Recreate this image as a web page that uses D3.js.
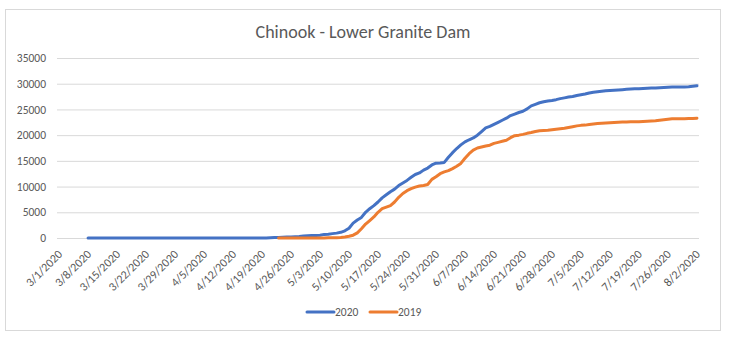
<!DOCTYPE html>
<html>
<head>
<meta charset="utf-8">
<script src="https://cdn.jsdelivr.net/npm/d3@7/dist/d3.min.js"></script>
<style>
  html, body { margin: 0; padding: 0; background: #fff; }
  svg { display: block; font-family: Calibri, Carlito, Lato, "Open Sans", sans-serif; }
</style>
</head>
<body>
<svg id="chart" width="730" height="340"></svg>
<script>
// Cumulative Chinook counts at Lower Granite Dam, one value per day
const chartTitle = "Chinook - Lower Granite Dam";
const firstDay = "3/1/2020";
const lastDay = "8/2/2020";
const yTicks = [0, 5000, 10000, 15000, 20000, 25000, 30000, 35000];
const tickLabels = ["3/1/2020", "3/8/2020", "3/15/2020", "3/22/2020", "3/29/2020", "4/5/2020",
  "4/12/2020", "4/19/2020", "4/26/2020", "5/3/2020", "5/10/2020", "5/17/2020", "5/24/2020",
  "5/31/2020", "6/7/2020", "6/14/2020", "6/21/2020", "6/28/2020", "7/5/2020", "7/12/2020",
  "7/19/2020", "7/26/2020", "8/2/2020"];

const seriesNames = ["2020", "2019"];
const start2020 = "3/8/2020";
const values2020 = [
  0, 0, 0, 0, 0, 0, 0, 0, 0, 0, 0, 0, 0, 0, 0, 0, 0, 0, 0, 0, 0, 0,
  0, 0, 0, 0, 0, 0, 0, 0, 0, 0, 0, 0, 0, 0, 0, 0, 0, 0, 0, 0, 0, 0,
  50, 100, 100, 150, 200, 200, 250, 300, 400, 450, 500, 500, 550, 700, 750, 850, 950,
  1100, 1400, 1900, 2900, 3500, 4000, 5000, 5700, 6300, 7000, 7800, 8400, 9000, 9500,
  10200, 10700, 11200, 11800, 12350, 12650, 13200, 13600, 14200, 14550, 14600, 14700,
  15700, 16600, 17400, 18100, 18700, 19100, 19450, 20000, 20700, 21400, 21700, 22100,
  22500, 22900, 23300, 23800, 24100, 24400, 24650, 25100, 25700, 26000, 26300, 26500,
  26650, 26750, 26900, 27100, 27250, 27400, 27500, 27700, 27850, 28000, 28200, 28350,
  28450, 28550, 28650, 28700, 28750, 28800, 28850, 28900, 28950, 29000, 29000, 29050,
  29100, 29150, 29150, 29200, 29250, 29300, 29350, 29350, 29350, 29350, 29400, 29500, 29600
];
const start2019 = "4/23/2020";
const values2019 = [
  0, 0, 0, 0, 0, 0, 0, 0, 10, 10, 20, 20, 30, 30,
  50, 100, 200, 350, 550, 1000, 1800, 2700, 3400, 4100, 5000, 5700, 6000, 6300, 7000,
  7900, 8650, 9200, 9600, 9900, 10100, 10200, 10400, 11400, 11900, 12500, 12850, 13100,
  13500, 13950, 14500, 15500, 16400, 17100, 17500, 17700, 17900, 18050, 18400, 18600,
  18800, 19000, 19500, 19900, 20000, 20150, 20350, 20500, 20700, 20850, 20900, 20950,
  21050, 21150, 21250, 21350, 21500, 21650, 21800, 21900, 21950, 22050, 22150, 22250,
  22300, 22350, 22400, 22450, 22500, 22550, 22550, 22600, 22600, 22600, 22650, 22700,
  22750, 22800, 22900, 23000, 23100, 23200, 23200, 23200, 23200, 23250, 23250, 23300
];
const seriesColors = ["#4472C4", "#ED7D31"];

const parse = d3.timeParse("%m/%d/%Y");
const fmt = d3.timeFormat("%-m/%-d/%Y");

// every day on the category axis
const days = d3.timeDay.range(parse(firstDay), d3.timeDay.offset(parse(lastDay), 1)).map(fmt);

function toPoints(startLabel, values) {
  const s = parse(startLabel);
  return values.map((v, i) => ({ day: fmt(d3.timeDay.offset(s, i)), value: v }));
}
const series = [
  { name: seriesNames[0], color: seriesColors[0], points: toPoints(start2020, values2020) },
  { name: seriesNames[1], color: seriesColors[1], points: toPoints(start2019, values2019) }
];

const svg = d3.select("#chart");
const margin = { left: 57, right: 31, top: 58, bottom: 102 };
const W = 730, H = 340;
const plotW = W - margin.left - margin.right;
const plotH = H - margin.top - margin.bottom;
const labelFont = "Calibri, Carlito, Lato, sans-serif";

// outer chart frame
svg.append("rect")
  .attr("x", 5.5).attr("y", 9.5).attr("width", 715).attr("height", 321)
  .attr("fill", "#fff").attr("stroke", "#d9d9d9").attr("stroke-width", 1);

svg.append("text")
  .attr("x", 363).attr("y", 38)
  .attr("text-anchor", "middle")
  .attr("font-size", 18)
  .attr("fill", "#595959")
  .text(chartTitle);

const g = svg.append("g").attr("transform", `translate(${margin.left},${margin.top})`);

const x = d3.scaleBand().domain(days).range([0, plotW]).paddingInner(0).paddingOuter(0);
const xc = d => x(d) + x.bandwidth() / 2;
const y = d3.scaleLinear().domain([0, 35000]).range([plotH, 0]);

// horizontal gridlines with value labels
const yAxis = g.append("g")
  .call(d3.axisLeft(y).tickValues(yTicks).tickSize(-plotW).tickPadding(11).tickFormat(d3.format("d")));
yAxis.select(".domain").remove();
yAxis.selectAll(".tick line").attr("stroke", "#d9d9d9").attr("stroke-width", 1);
yAxis.selectAll(".tick text")
  .attr("fill", "#595959").attr("font-size", 11.5)
  .style("font-family", labelFont);

// date labels, rotated
const xAxis = g.append("g")
  .attr("transform", `translate(0,${plotH})`)
  .call(d3.axisBottom(x).tickValues(tickLabels).tickSize(0).tickPadding(0));
xAxis.select(".domain").remove();
xAxis.selectAll(".tick text")
  .attr("fill", "#595959").attr("font-size", 12)
  .style("font-family", labelFont)
  .attr("text-anchor", "end")
  .attr("x", 0).attr("y", 0).attr("dy", "0.35em")
  .attr("transform", "translate(1,14) rotate(-45)");

const line = d3.line().x(d => xc(d.day)).y(d => y(d.value));

g.selectAll(".series")
  .data(series)
  .join("path")
  .attr("class", "series")
  .attr("fill", "none")
  .attr("stroke", d => d.color)
  .attr("stroke-width", 3)
  .attr("stroke-linejoin", "round")
  .attr("stroke-linecap", "round")
  .attr("d", d => line(d.points));

// legend
const legend = svg.append("g").attr("transform", "translate(307,312)");
const legendItems = legend.selectAll("g")
  .data(series)
  .join("g")
  .attr("transform", (d, i) => `translate(${i * 63},0)`);
legendItems.append("line")
  .attr("x1", 0).attr("x2", 27).attr("y1", 0).attr("y2", 0)
  .attr("stroke", d => d.color).attr("stroke-width", 3).attr("stroke-linecap", "round");
legendItems.append("text")
  .attr("x", 28).attr("y", 0).attr("dy", "0.35em")
  .attr("font-size", 11.5).attr("fill", "#595959")
  .text(d => d.name);
</script>
</body>
</html>
